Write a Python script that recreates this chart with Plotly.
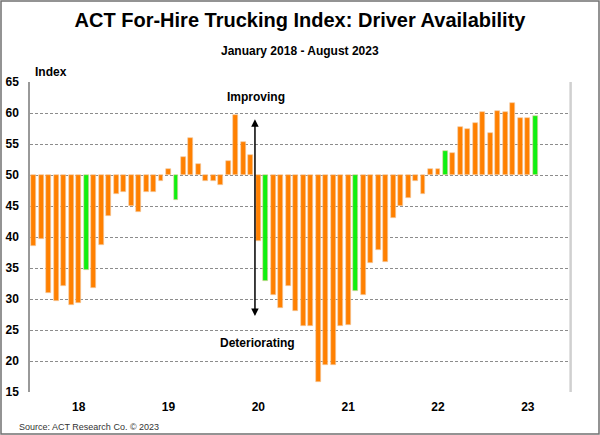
import plotly.graph_objects as go

# ACT For-Hire Trucking Index: Driver Availability, monthly Jan 2018 - Aug 2023
months = ["Jan", "Feb", "Mar", "Apr", "May", "Jun", "Jul", "Aug", "Sep", "Oct", "Nov", "Dec"]
years = [2018, 2019, 2020, 2021, 2022, 2023]

idx_2018 = [38.5, 39.6, 31.0, 29.7, 32.1, 29.0, 29.3, 34.7, 31.7, 38.7, 43.4, 47.0]
idx_2019 = [47.3, 45.0, 44.0, 47.2, 47.2, 49.0, 51.0, 46.0, 52.9, 56.0, 51.8, 49.1]
idx_2020 = [49.1, 48.4, 52.2, 59.7, 55.4, 53.3, 39.3, 32.9, 30.6, 28.6, 32.1, 28.0]
idx_2021 = [25.6, 25.6, 16.6, 19.3, 19.3, 25.7, 25.8, 31.3, 30.6, 35.8, 37.9, 35.9]
idx_2022 = [43.0, 45.0, 46.3, 49.1, 47.0, 51.0, 51.0, 53.8, 53.6, 57.7, 57.4, 58.4]
idx_2023 = [60.2, 56.7, 60.4, 60.1, 61.6, 59.2, 59.2, 59.5]

values = idx_2018 + idx_2019 + idx_2020 + idx_2021 + idx_2022 + idx_2023
labels = [f"{m} {y}" for y in years for m in months][:len(values)]
x = list(range(len(values)))

year_ticks = [6, 18, 30, 42, 54, 66]
year_text = ["18", "19", "20", "21", "22", "23"]

ORANGE = "#FF8000"
GREEN = "#10F010"
colors = [GREEN if lab.startswith("Aug") else ORANGE for lab in labels]

FONT = "Arial, Liberation Sans, sans-serif"

fig = go.Figure()
fig.add_trace(go.Bar(
    x=x,
    y=[v - 50 for v in values],
    base=50,
    width=0.66,
    marker=dict(color=colors, line=dict(color="#F3CFA8", width=0.6)),
    customdata=labels,
    hovertemplate="%{customdata}: %{y:.1f}<extra></extra>",
))

L, R, T, B = 30, 31, 82, 43
W, H = 600, 435
pw, ph = W - L - R, H - T - B

fig.update_layout(
    width=W, height=H,
    margin=dict(l=L, r=R, t=T, b=B, autoexpand=False),
    paper_bgcolor="white",
    plot_bgcolor="white",
    showlegend=False,
    bargap=0,
    font=dict(family=FONT, color="black"),
    title=dict(
        text="<b>ACT For-Hire Trucking Index: Driver Availability</b>",
        x=0.5, xanchor="center", y=1 - 20 / H, yanchor="middle",
        font=dict(size=20, family=FONT, color="black"),
    ),
)

fig.update_xaxes(
    range=[-0.5, 71.5],
    tickvals=year_ticks,
    ticktext=[f"<b>{t}</b>" for t in year_text],
    tickfont=dict(size=12, family=FONT, color="black"),
    showgrid=False,
    zeroline=False,
    showline=False,
    ticks="",
    ticklabelstandoff=6,
    automargin=False,
)
fig.update_yaxes(
    range=[15, 65],
    tickvals=list(range(15, 66, 5)),
    ticktext=[f"<b>{v}</b>" for v in range(15, 66, 5)],
    tickfont=dict(size=12, family=FONT, color="black"),
    showgrid=True,
    gridcolor="#8C8C8C",
    gridwidth=1,
    griddash="3px,2px",
    zeroline=False,
    showline=True,
    linecolor="#999999",
    linewidth=1.5,
    ticks="",
    ticklabelstandoff=7,
    automargin=False,
)

# right edge of plot area and outer frame
fig.add_shape(type="line", xref="paper", yref="paper", x0=1.003, x1=1.003, y0=0, y1=1,
              line=dict(color="#D0D0D0", width=2.5))
fig.add_shape(type="rect", xref="paper", yref="paper",
              x0=(1 - L) / pw, x1=(W - 1 - L) / pw,
              y0=-(B - 1) / ph, y1=(H - 1 - B) / ph,
              line=dict(color="#707070", width=1.5), fillcolor="rgba(0,0,0,0)", layer="above")

# double-headed arrow and its labels
fig.add_annotation(x=29.55, y=59.0, ax=29.55, ay=27.0, xref="x", yref="y", axref="x", ayref="y",
                   text="", showarrow=True, arrowhead=2, startarrowhead=2, arrowside="end+start",
                   arrowsize=1, arrowwidth=1.5, arrowcolor="black")
fig.add_annotation(x=29.7, y=62.6, xref="x", yref="y", text="<b>Improving</b>", showarrow=False,
                   font=dict(size=12, family=FONT, color="black"))
fig.add_annotation(x=29.95, y=22.9, xref="x", yref="y", text="<b>Deteriorating</b>", showarrow=False,
                   font=dict(size=12, family=FONT, color="black"))

# subtitle, axis label, source
fig.add_annotation(x=0.5, y=(H - B - 51) / ph, xref="paper", yref="paper", yanchor="middle",
                   text="<b>January 2018 - August 2023</b>", showarrow=False,
                   font=dict(size=12, family=FONT, color="black"))
fig.add_annotation(x=(33 - L) / pw, y=(H - B - 72) / ph, xref="paper", yref="paper",
                   xanchor="left", yanchor="middle", text="<b>Index</b>", showarrow=False,
                   font=dict(size=12, family=FONT, color="black"))
fig.add_annotation(x=(17 - L) / pw, y=-(427 - (H - B)) / ph, xref="paper", yref="paper",
                   xanchor="left", yanchor="middle", text="Source: ACT Research Co. © 2023",
                   showarrow=False, font=dict(size=9, family=FONT, color="#333333"))

fig.write_html("out.html", config={"displayModeBar": False},
               post_script="document.body.style.margin='0';")
